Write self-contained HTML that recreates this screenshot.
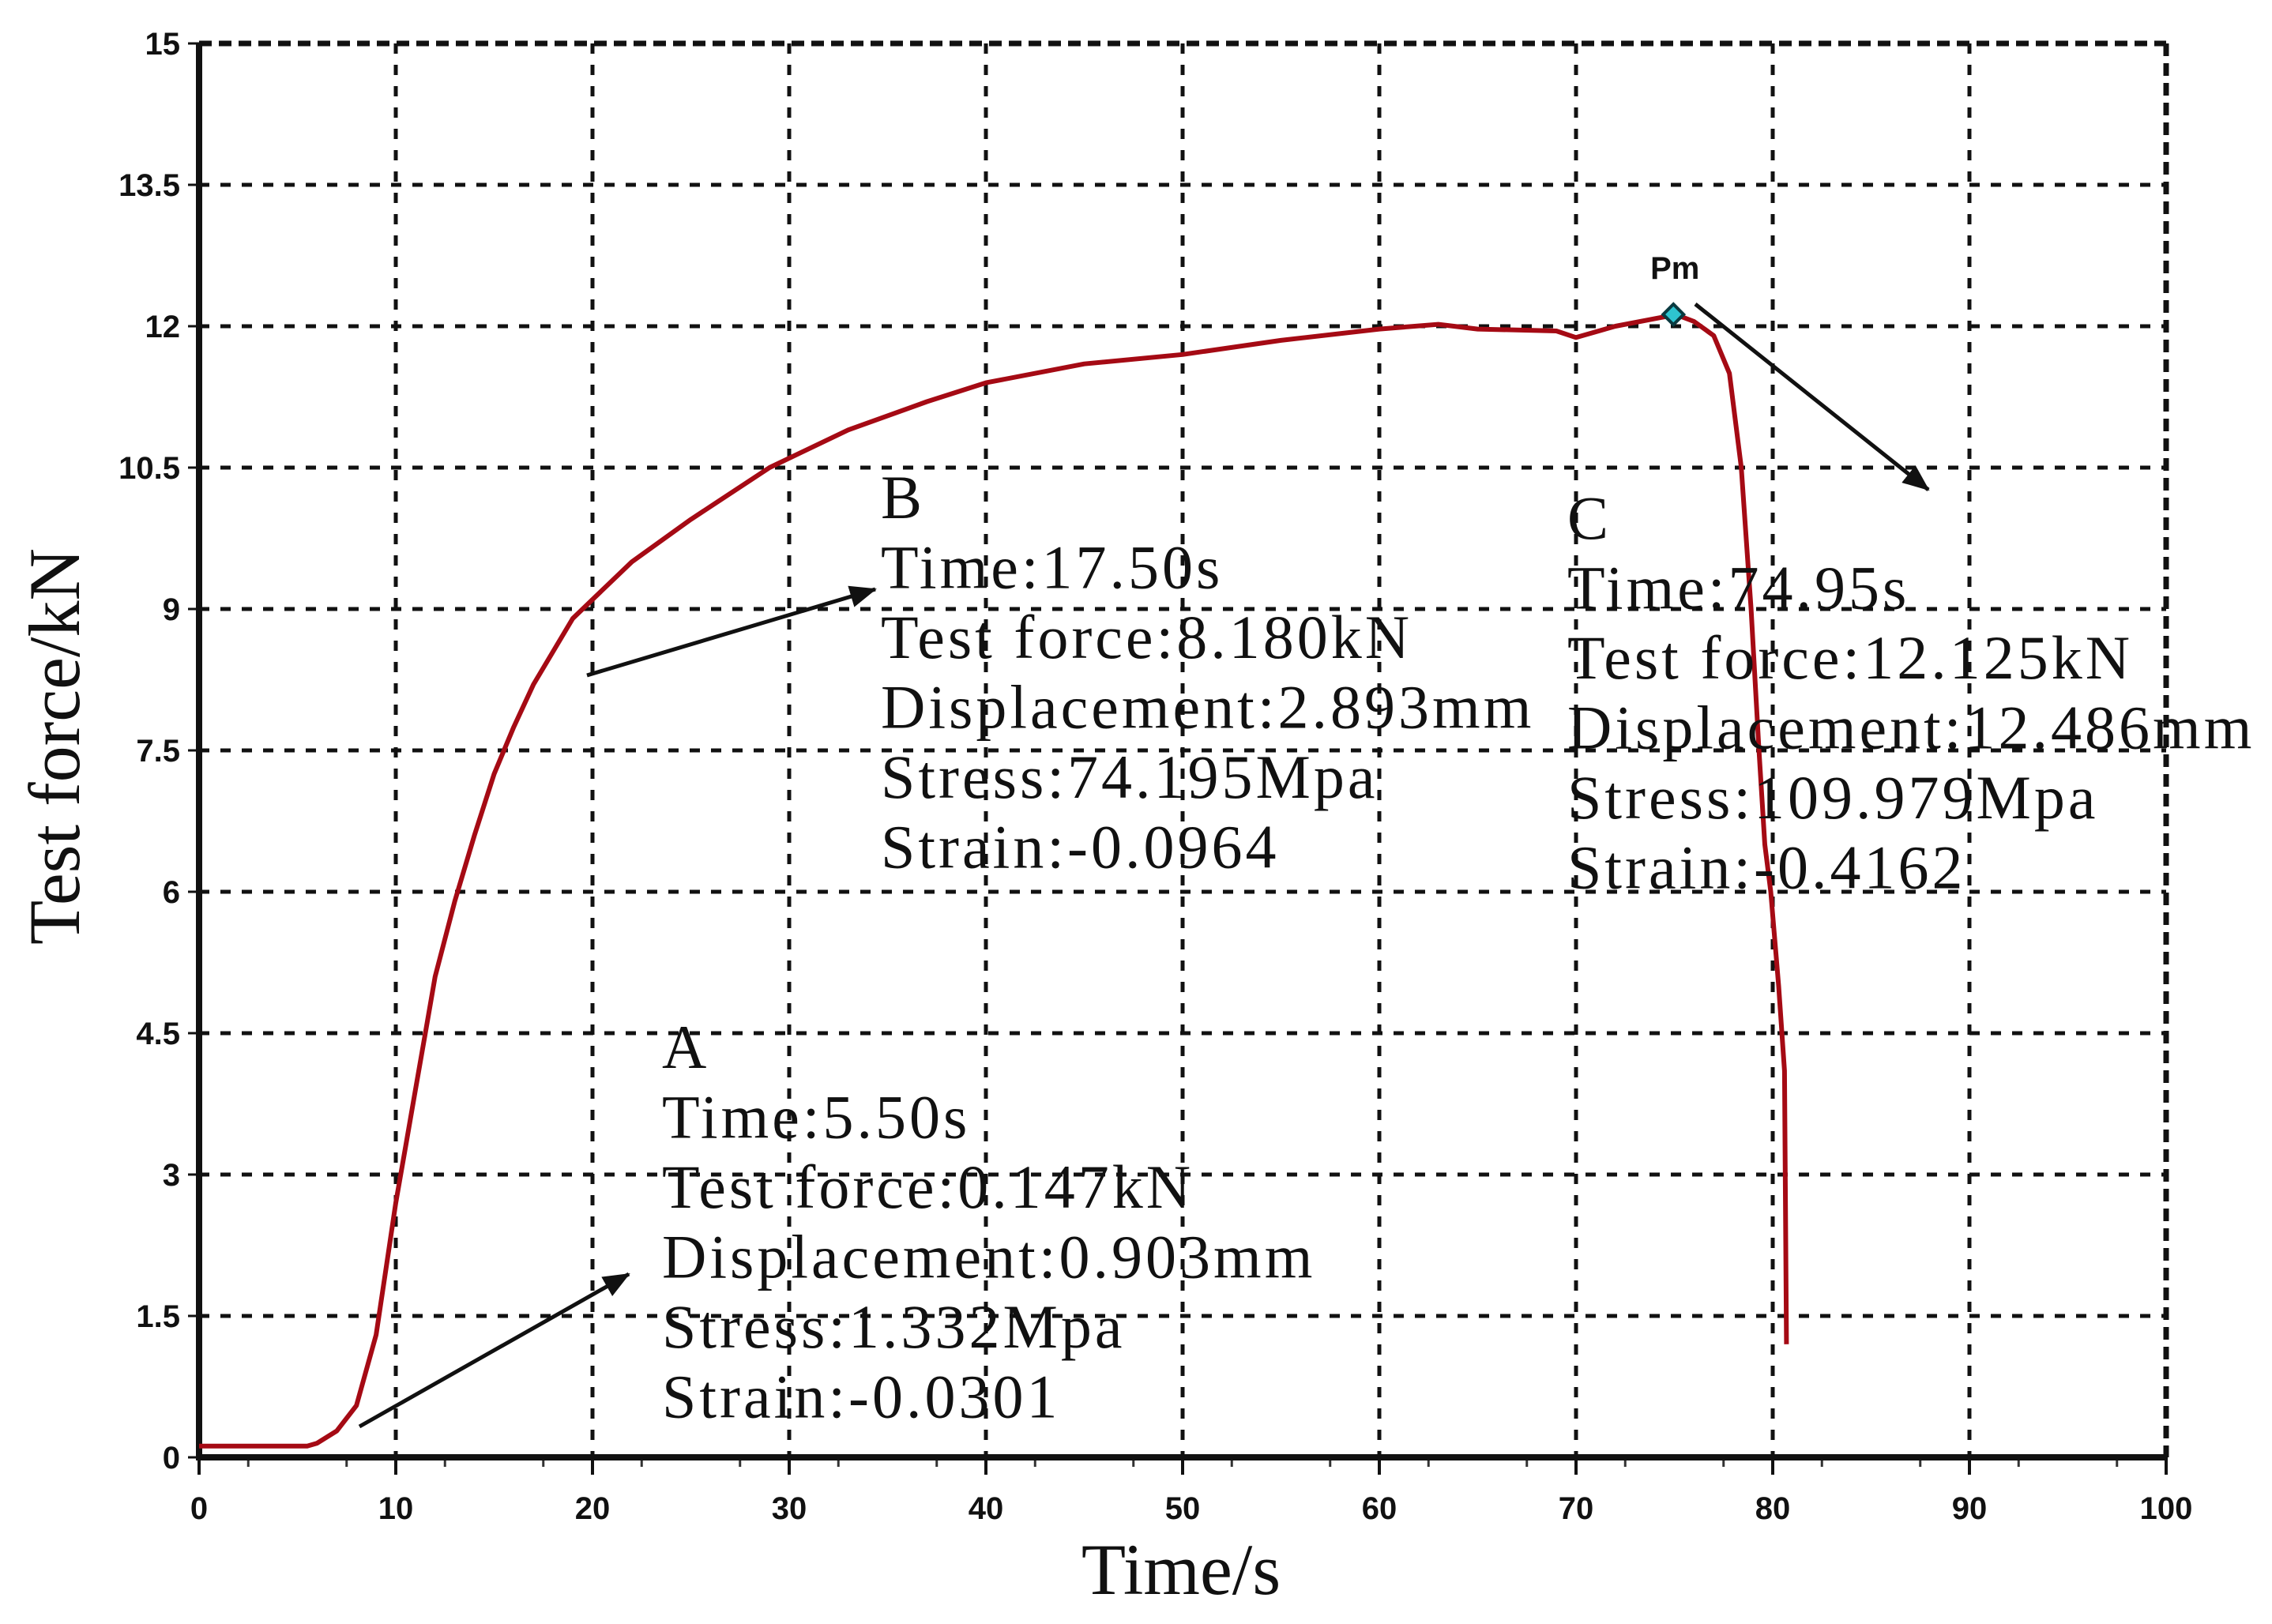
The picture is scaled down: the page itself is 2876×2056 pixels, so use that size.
<!DOCTYPE html>
<html><head><meta charset="utf-8"><style>
html,body{margin:0;padding:0;background:#fff;}
svg{display:block;}
.tick{font-family:"Liberation Sans",sans-serif;font-size:40px;font-weight:bold;fill:#111;}
.ann{font-family:"Liberation Serif",serif;font-size:78px;letter-spacing:4px;fill:#111;}
.title{font-family:"Liberation Serif",serif;font-size:92px;fill:#111;}
</style></head><body>
<svg id="chart" width="2876" height="2056" viewBox="0 0 2876 2056">
<defs>
<marker id="ahb" markerWidth="34" markerHeight="28" refX="32" refY="14" orient="auto" markerUnits="userSpaceOnUse"><path d="M0,0 L34,14 L0,28 z" fill="#111"/></marker></defs>
<g id="grid"></g>
<g id="axes"></g>
<g id="series"></g>
<g id="annots"></g>
<text class="title" x="1495" y="2018" text-anchor="middle">Time/s</text>
<text class="title" x="0" y="0" text-anchor="middle" transform="translate(100,945) rotate(-90)">Test force/kN</text>
</svg>
<script>
const xTicks=[0,10,20,30,40,50,60,70,80,90,100];
const yTicks=[0,1.5,3,4.5,6,7.5,9,10.5,12,13.5,15];
const yTickLabels=["0","1.5","3","4.5","6","7.5","9","10.5","12","13.5","15"];
const timeS=[0,2,4,5.5,6,7,8,9,9.5,10,10.5,11,11.5,12,13,14,15,16,17,19,22,25,29,33,37,40,45,50,55,60,63,65,69,70,72,74.5,75,76,77,77.8,78.4,78.9,79.3,79.6,79.9,80.3,80.6,80.7];
const forceKN=[0.12,0.12,0.12,0.12,0.15,0.28,0.55,1.3,2.0,2.7,3.3,3.9,4.5,5.1,5.9,6.6,7.25,7.75,8.2,8.9,9.5,9.95,10.5,10.9,11.2,11.4,11.6,11.7,11.85,11.97,12.02,11.97,11.95,11.88,12.0,12.1,12.13,12.05,11.9,11.5,10.5,9.0,7.5,6.5,6.0,5.0,4.1,1.2];
const pmPoint=[74.95,12.125];
const X0=252,X1=2742,Y0=1845,Y1=55;
const sx=v=>X0+(v-0)/100*(X1-X0);
const sy=v=>Y0-(v-0)/15*(Y0-Y1);
const NS="http://www.w3.org/2000/svg";
function mk(tag,attrs,parent){const e=document.createElementNS(NS,tag);for(const k in attrs)e.setAttribute(k,attrs[k]);parent.appendChild(e);return e;}
const grid=document.getElementById('grid'),axes=document.getElementById('axes'),series=document.getElementById('series'),ann=document.getElementById('annots');
xTicks.forEach((t,i)=>{
 if(t>0&&t<100){const l=mk('line',{x1:sx(t),y1:Y1,x2:sx(t),y2:Y0,stroke:'#111','stroke-width':5,'stroke-dasharray':'13 14'},grid);
 
 }
 const tk=mk('line',{x1:sx(t),y1:Y0,x2:sx(t),y2:Y0+22,stroke:'#111','stroke-width':4},axes);
 
 
 const tx=mk('text',{x:sx(t),y:Y0+78,'text-anchor':'middle',class:'tick'},axes);tx.textContent=t;
 
 
});
for(let t=2.5;t<100;t+=5){const m=mk('line',{x1:sx(t),y1:Y0,x2:sx(t),y2:Y0+12,stroke:'#333','stroke-width':3},axes);
 
 }
yTicks.forEach((t,i)=>{
 if(t>0&&t<15){const l=mk('line',{x1:X0,y1:sy(t),x2:X1,y2:sy(t),stroke:'#111','stroke-width':5,'stroke-dasharray':'13 14'},grid);
 
 }
 const tk=mk('line',{x1:X0-14,y1:sy(t),x2:X0,y2:sy(t),stroke:'#111','stroke-width':3},axes);
 
 
 const tx=mk('text',{x:X0-24,y:sy(t)+14,'text-anchor':'end',class:'tick'},axes);tx.textContent=yTickLabels[i];
 
 
});
const topBorder=mk('line',{x1:X0,y1:Y1,x2:X1,y2:Y1,stroke:'#111','stroke-width':7,'stroke-dasharray':'16 9'},axes);


const rightBorder=mk('line',{x1:X1,y1:Y1,x2:X1,y2:Y0,stroke:'#111','stroke-width':7,'stroke-dasharray':'16 9'},axes);


const yAxisLine=mk('line',{x1:X0,y1:Y1,x2:X0,y2:Y0+3,stroke:'#111','stroke-width':8},axes);


const xAxisLine=mk('line',{x1:X0-4,y1:Y0,x2:X1,y2:Y0,stroke:'#111','stroke-width':8},axes);


const pts=timeS.map((t,i)=>sx(t).toFixed(1)+','+sy(forceKN[i]).toFixed(1)).join(' ');
const curve=mk('polyline',{points:pts,fill:'none',stroke:'#a50a14','stroke-width':6,'stroke-linejoin':'round'},series);


const px=sx(pmPoint[0]),py=sy(pmPoint[1]);
const pm=mk('polygon',{points:`${px},${py-13} ${px+13},${py} ${px},${py+13} ${px-13},${py}`,fill:'#2ec4d0',stroke:'#0a3a40','stroke-width':4},series);


const pmt=mk('text',{x:px+2,y:py-45,'text-anchor':'middle',class:'tick','font-weight':'normal'},series);pmt.textContent='Pm';


function arrow(x1,y1,x2,y2,name){const a=mk('line',{x1,y1,x2,y2,stroke:'#111','stroke-width':5,'marker-end':'url(#ahb)'},ann);
 
 }
arrow(455,1806,796,1613,'arrow-a');
arrow(743,855,1108,746,'arrow-b');
arrow(2146,385,2441,620,'arrow-c');
function block(x,y0,lines,name){lines.forEach((s,i)=>{const t=mk('text',{x,y:y0+i*88.5,class:'ann'},ann);t.textContent=s;
 
 });}
block(1115,656,['B','Time:17.50s','Test force:8.180kN','Displacement:2.893mm','Stress:74.195Mpa','Strain:-0.0964'],'annotation-b');
block(1984,682,['C','Time:74.95s','Test force:12.125kN','Displacement:12.486mm','Stress:109.979Mpa','Strain:-0.4162'],'annotation-c');
block(838,1352,['A','Time:5.50s','Test force:0.147kN','Displacement:0.903mm','Stress:1.332Mpa','Strain:-0.0301'],'annotation-a');
</script>
</body></html>
